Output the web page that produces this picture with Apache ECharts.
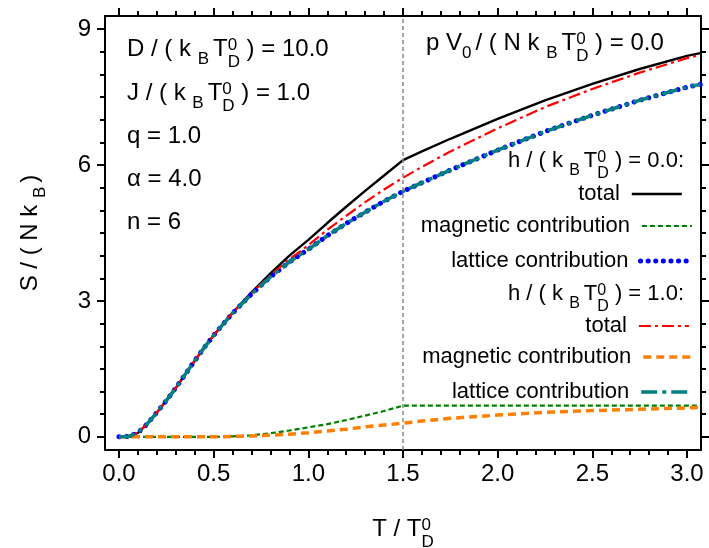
<!DOCTYPE html>
<html><head><meta charset="utf-8">
<script src="https://cdn.jsdelivr.net/npm/echarts@6/dist/echarts.min.js"></script>
<style>html,body{margin:0;padding:0;background:#fff}#c{width:709px;height:548px}</style>
</head><body><div id="c"></div>
<script>
// ---------------- data ----------------
const temperature = [0, 0.05, 0.1, 0.15, 0.2, 0.25, 0.3, 0.35, 0.4, 0.45, 0.5, 0.55, 0.6, 0.7, 0.8, 0.9, 1.0, 1.1, 1.2, 1.3, 1.4, 1.5, 1.6, 1.75, 2.0, 2.25, 2.5, 2.75, 3.0, 3.07];
const totalH0    = [0, 0.01, 0.09, 0.29, 0.54, 0.80, 1.08, 1.38, 1.68, 1.97, 2.24, 2.49, 2.74, 3.19, 3.61, 4.00, 4.35, 4.72, 5.08, 5.43, 5.77, 6.11, 6.30, 6.58, 7.02, 7.43, 7.79, 8.12, 8.41, 8.47];
const magneticH0 = [0, 0, 0, 0, 0, 0, 0, 0, 0, 0, 0, 0.003, 0.01, 0.035, 0.08, 0.14, 0.21, 0.28, 0.37, 0.47, 0.57, 0.69, 0.69, 0.69, 0.69, 0.69, 0.69, 0.69, 0.69, 0.69];
const latticeH0  = [0, 0.01, 0.09, 0.29, 0.54, 0.80, 1.08, 1.38, 1.68, 1.97, 2.24, 2.49, 2.73, 3.15, 3.53, 3.86, 4.14, 4.44, 4.71, 4.96, 5.20, 5.42, 5.61, 5.89, 6.33, 6.74, 7.10, 7.43, 7.72, 7.78];
const totalH1    = [0, 0.01, 0.09, 0.29, 0.54, 0.80, 1.08, 1.38, 1.68, 1.97, 2.24, 2.50, 2.74, 3.17, 3.57, 3.92, 4.23, 4.57, 4.88, 5.18, 5.46, 5.72, 5.96, 6.30, 6.81, 7.28, 7.68, 8.04, 8.36, 8.43];
const magneticH1 = [0, 0, 0, 0, 0, 0, 0, 0, 0, 0, 0.003, 0.005, 0.01, 0.02, 0.035, 0.06, 0.09, 0.13, 0.17, 0.22, 0.26, 0.30, 0.35, 0.41, 0.48, 0.54, 0.58, 0.61, 0.64, 0.65];
const latticeH1  = [0, 0.01, 0.09, 0.29, 0.54, 0.80, 1.08, 1.38, 1.68, 1.97, 2.24, 2.49, 2.73, 3.15, 3.53, 3.86, 4.14, 4.44, 4.71, 4.96, 5.20, 5.42, 5.61, 5.89, 6.33, 6.74, 7.10, 7.43, 7.72, 7.78];
const transitionT = 1.5;

const xMajorTicks = [0, 0.5, 1.0, 1.5, 2.0, 2.5, 3.0];
const xMinorTicks = [0, 0.1, 0.2, 0.3, 0.4, 0.5, 0.6, 0.7, 0.8, 0.9, 1.0, 1.1, 1.2, 1.3, 1.4, 1.5, 1.6, 1.7, 1.8, 1.9, 2.0, 2.1, 2.2, 2.3, 2.4, 2.5, 2.6, 2.7, 2.8, 2.9, 3.0];
const yMajorTicks = [0, 3, 6, 9];
const yMinorTicks = [0, 0.5, 1, 1.5, 2, 2.5, 3, 3.5, 4, 4.5, 5, 5.5, 6, 6.5, 7, 7.5, 8, 8.5, 9];
const xRange = [-0.074, 3.074];
const yRange = [-0.29, 9.29];

const legendNames = {
  tot0: 'total', mag0: 'magnetic contribution', lat0: 'lattice contribution',
  tot1: 'total', mag1: 'magnetic contribution', lat1: 'lattice contribution'
};

// ---------------- styles ----------------
const FONT = "'Liberation Sans', Arial, Helvetica, sans-serif";
const NARROW = "'Liberation Sans Narrow', 'Liberation Sans', Arial, sans-serif";
const styles = {
  tot0: {color: '#000000', width: 2.4, type: 'solid', cap: 'butt'},
  mag0: {color: '#008000', width: 2.2, type: [5, 3], cap: 'butt'},
  lat0: {color: '#0000ff', width: 5, type: [0.1, 7.5], cap: 'round'},
  tot1: {color: '#ff0000', width: 2.2, type: [12, 4, 3, 4], cap: 'butt'},
  mag1: {color: '#ff8000', width: 3.5, type: [8, 5], cap: 'butt'},
  lat1: {color: '#008080', width: 3.5, type: [16, 5, 4, 5], cap: 'butt'}
};
const seriesData = {tot0: totalH0, mag0: magneticH0, lat0: latticeH0, tot1: totalH1, mag1: magneticH1, lat1: latticeH1};
const drawOrder = ['tot0', 'mag0', 'lat0', 'tot1', 'mag1', 'lat1'];

// rich text: n = normal, sp = stacked superscript (zero width), sb = subscript, sd = stacked subscript
function richSet(main, small, colorKey, scale) {
  const k = scale || 1;
  const o = {
    n: {fontSize: main, fontFamily: FONT},
    sp: {fontSize: small, fontFamily: FONT, width: 0, padding: [0, 0, Math.round(7 * k), 0]},
    sb: {fontSize: small, fontFamily: FONT, padding: [Math.round(21 * k), 4, 0, 0]},
    sd: {fontSize: small, fontFamily: FONT, padding: [Math.round(27 * k), 0, 0, 0]}
  };
  Object.values(o).forEach(s => { s[colorKey] = '#000'; s.align = 'left'; });
  return o;
}
const richAnnot = richSet(24, 17, 'fill', 1);
const richLegend = richSet(22, 16, 'fill', 0.92);
const richAxis = richSet(24, 17, 'color', 1);

const kBTD = '{n|k }{sb|B}{n|T}{sp|0}{sd|D}';
const annotations = [
  {text: '{n|D / ( }' + kBTD + '{n| ) = 10.0}', x: 127, y: 49},
  {text: '{n|J / ( }' + kBTD + '{n| ) = 1.0}', x: 127, y: 93},
  {text: '{n|q = 1.0}', x: 127, y: 136},
  {text: '{n|\u03b1 = 4.0}', x: 127, y: 179},
  {text: '{n|n = 6}', x: 127, y: 222},
  {text: '{n|p V}{sb|0}{n|/ ( N }' + kBTD + '{n| ) = 0.0}', x: 426, y: 43}
];
const headers = [
  {text: '{n|h / ( }' + kBTD + '{n| ) = 0.0:}', x: 684, y: 161},
  {text: '{n|h / ( }' + kBTD + '{n| ) = 1.0:}', x: 684, y: 294}
];
const legendPos = {tot0: [26, 194], mag0: [16, 226], lat0: [16, 261], tot1: [19, 326], mag1: [14, 357], lat1: [16, 392]};

function xAxisDef(position, ticks, len, showLine, showLabel) {
  return {
    type: 'value', position: position, min: xRange[0], max: xRange[1], offset: 0,
    axisLine: {show: showLine, onZero: false, lineStyle: {color: '#000', width: 2}},
    axisTick: {show: true, inside: false, length: len, customValues: ticks, lineStyle: {color: '#000', width: 2}},
    axisLabel: {show: showLabel, customValues: xMajorTicks, formatter: v => v.toFixed(1), fontSize: 24, fontFamily: NARROW, color: '#000', margin: 12},
    splitLine: {show: false}
  };
}
function yAxisDef(position, ticks, len, showLine, showLabel) {
  return {
    type: 'value', position: position, min: yRange[0], max: yRange[1], offset: 0,
    axisLine: {show: showLine, onZero: false, lineStyle: {color: '#000', width: 2}},
    axisTick: {show: true, inside: false, length: len, customValues: ticks, lineStyle: {color: '#000', width: 2}},
    axisLabel: {show: showLabel, customValues: yMajorTicks, formatter: v => String(v), fontSize: 24, fontFamily: NARROW, color: '#000', margin: 14},
    splitLine: {show: false}
  };
}

const xAxes = [
  xAxisDef('bottom', xMajorTicks, 8, true, true),
  xAxisDef('bottom', xMinorTicks, 5, false, false),
  xAxisDef('top', xMajorTicks, 8, true, false),
  xAxisDef('top', xMinorTicks, 5, false, false)
];
Object.assign(xAxes[0], {
  name: '{n|T / T}{sp|0}{sd|D}', nameLocation: 'middle', nameGap: 57,
  nameTextStyle: {rich: richAxis}
});
const yAxes = [
  yAxisDef('left', yMajorTicks, 8, true, true),
  yAxisDef('left', yMinorTicks, 5, false, false),
  yAxisDef('right', yMajorTicks, 8, true, false),
  yAxisDef('right', yMinorTicks, 5, false, false)
];
Object.assign(yAxes[0], {
  name: '{n|S / ( N k }{sb|B}{n|)}', nameLocation: 'middle', nameGap: 56, nameRotate: 90,
  nameTextStyle: {rich: richAxis}
});

const series = drawOrder.map(key => {
  const st = styles[key];
  const s = {
    name: key, type: 'line', symbol: 'none', showSymbol: false, smooth: false,
    xAxisIndex: 0, yAxisIndex: 0, clip: true,
    data: temperature.map((t, i) => [t, seriesData[key][i]]),
    lineStyle: {color: st.color, width: st.width, type: st.type, cap: st.cap},
    itemStyle: {color: st.color},
    emphasis: {disabled: true}
  };
  if (key === 'tot0') {
    s.markLine = {
      silent: true, symbol: ['none', 'none'], label: {show: false},
      lineStyle: {color: '#888888', width: 1.5, type: [4, 3]},
      data: [{xAxis: transitionT}]
    };
  }
  return s;
});

const legends = drawOrder.map(key => {
  const st = styles[key];
  return {
    data: [key], right: legendPos[key][0], top: legendPos[key][1] - 12,
    orient: 'horizontal', align: 'right', padding: 0, itemGap: 0,
    itemWidth: 50, itemHeight: 14, selectedMode: false,
    formatter: n => legendNames[n],
    textStyle: {fontSize: 22, fontFamily: FONT, color: '#000', lineHeight: 24, padding: [0, 7, 0, 0]},
    itemStyle: {opacity: 0, borderWidth: 0},
    lineStyle: {color: st.color, width: st.width, type: st.type, cap: st.cap, opacity: 1}
  };
});

const graphics = annotations.map(a => ({
  type: 'text', x: a.x, y: a.y, silent: true,
  style: {text: a.text, rich: richAnnot, fill: '#000', align: 'left', verticalAlign: 'middle', textAlign: 'left', textVerticalAlign: 'middle', font: '24px ' + FONT}
})).concat(headers.map(a => ({
  type: 'text', x: a.x, y: a.y, silent: true,
  style: {text: a.text, rich: richLegend, fill: '#000', align: 'right', verticalAlign: 'middle', textAlign: 'right', textVerticalAlign: 'middle', font: '22px ' + FONT}
})));

const chart = echarts.init(document.getElementById('c'), null, {renderer: 'canvas'});
chart.setOption({
  backgroundColor: '#fff',
  animation: false,
  grid: {left: 105, right: 8, top: 16, bottom: 98, containLabel: false, outerBoundsMode: 'none'},
  xAxis: xAxes,
  yAxis: yAxes,
  legend: legends,
  series: series,
  graphic: graphics
});
</script>
</body></html>
